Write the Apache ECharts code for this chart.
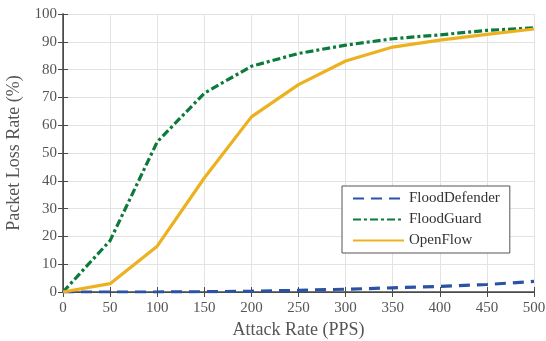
<!DOCTYPE html>
<html>
<head>
<meta charset="utf-8">
<script src="https://cdn.jsdelivr.net/npm/echarts@6/dist/echarts.min.js"></script>
<style>
  html, body { margin: 0; padding: 0; background: #fff; }
  #chart { width: 546px; height: 341px; }
</style>
</head>
<body>
<div id="chart"></div>
<script>
// attack rates (PPS)
const attackRates = [0, 50, 100, 150, 200, 250, 300, 350, 400, 450, 500];
// packet loss rate (%) per scheme
const floodDefender = [0, 0, 0, 0.1, 0.3, 0.6, 1.0, 1.5, 2.0, 2.7, 3.8];
const floodGuard = [0, 18.5, 54, 71.5, 81.2, 85.8, 88.8, 91.1, 92.5, 94.1, 95.0];
const openFlow = [0, 3, 16.5, 41, 63, 74.6, 83.1, 88.1, 90.6, 92.7, 94.6];

const font = 'Liberation Serif';
const axisColor = '#4a4a4a';
const textColor = '#555';

function pairs(ys) {
  return attackRates.map((x, i) => [x, ys[i]]);
}

function lineSeries(name, data, color, type) {
  return {
    name,
    type: 'line',
    data: pairs(data),
    symbol: 'none',
    showSymbol: false,
    lineStyle: { color, width: 3.2, type },
    itemStyle: { color },
    z: 3
  };
}

const chart = echarts.init(document.getElementById('chart'));
chart.setOption({
  animation: false,
  textStyle: { fontFamily: font },
  grid: { left: 63, right: 12, top: 14, bottom: 49, containLabel: false, outerBoundsMode: 'none' },
  legend: {
    left: 342,
    top: 186,
    width: 150,
    orient: 'vertical',
    itemWidth: 51,
    itemHeight: 10,
    itemGap: 6,
    padding: [5, 10, 5, 10],
    backgroundColor: '#fff',
    borderColor: '#555',
    borderWidth: 1,
    borderRadius: 0,
    itemStyle: { color: 'rgba(0,0,0,0)', borderWidth: 0, opacity: 0 },
    textStyle: { fontFamily: font, fontSize: 15, color: '#333' },
    data: ['FloodDefender', 'FloodGuard', 'OpenFlow']
  },
  xAxis: [{
    type: 'value',
    min: 0, max: 500, interval: 50,
    name: 'Attack Rate (PPS)',
    nameLocation: 'middle',
    nameGap: 27,
    nameTextStyle: { fontFamily: font, fontSize: 18, color: textColor },
    axisLine: { lineStyle: { color: axisColor, width: 1.5 } },
    axisTick: { inside: true, length: 5, lineStyle: { color: axisColor } },
    axisLabel: { fontFamily: font, fontSize: 15, color: textColor, margin: 9 },
    splitLine: { lineStyle: { color: '#e3e3e3' } }
  }, {
    type: 'value', position: 'top',
    min: 0, max: 500, interval: 50,
    axisLine: { show: true, lineStyle: { color: axisColor, width: 1 } },
    axisTick: { inside: true, length: 5, lineStyle: { color: axisColor } },
    axisLabel: { show: false },
    splitLine: { show: false }
  }],
  yAxis: [{
    type: 'value',
    min: 0, max: 100, interval: 10,
    name: 'Packet Loss Rate (%)',
    nameLocation: 'middle',
    nameGap: 34,
    nameTextStyle: { fontFamily: font, fontSize: 18, color: textColor },
    axisLine: { show: true, lineStyle: { color: axisColor, width: 1.5 } },
    axisTick: { show: true, inside: true, length: 5, lineStyle: { color: axisColor } },
    axisLabel: { fontFamily: font, fontSize: 15, color: textColor, margin: 6 },
    splitLine: { lineStyle: { color: '#e3e3e3' } }
  }, {
    type: 'value', position: 'right',
    min: 0, max: 100, interval: 10,
    axisLine: { show: true, lineStyle: { color: axisColor, width: 1 } },
    axisTick: { show: true, inside: true, length: 5, lineStyle: { color: axisColor } },
    axisLabel: { show: false },
    splitLine: { show: false }
  }],
  series: [
    lineSeries('FloodDefender', floodDefender, '#2a52a5', [11, 7]),
    lineSeries('FloodGuard', floodGuard, '#0b7a3b', [8, 3, 3, 3]),
    lineSeries('OpenFlow', openFlow, '#edb120', 'solid')
  ]
});
</script>
</body>
</html>
